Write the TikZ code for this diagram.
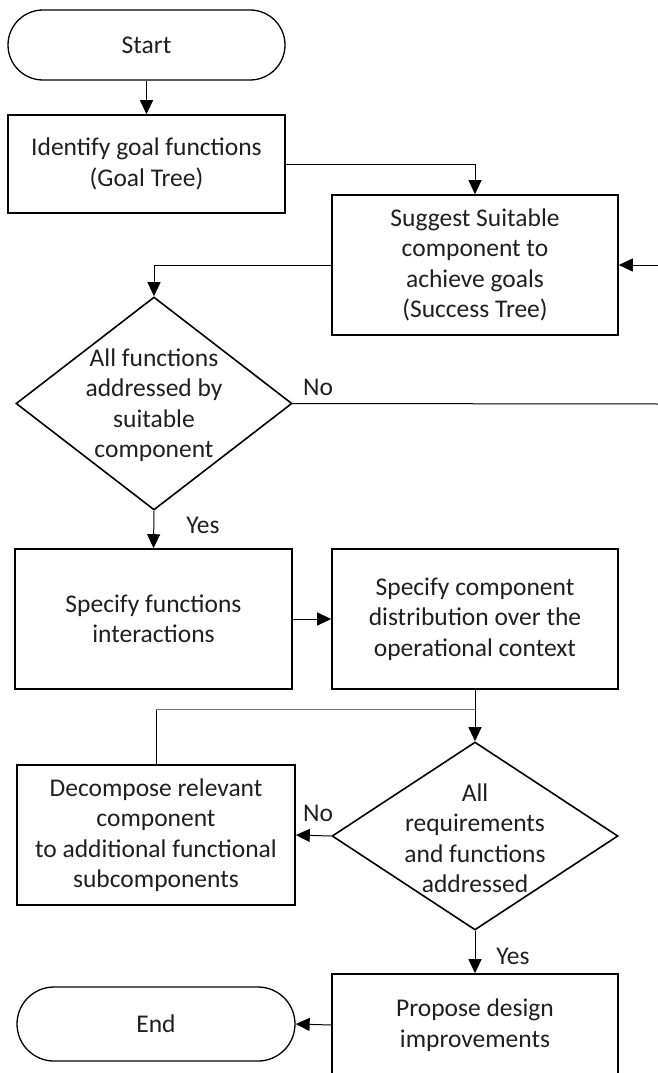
\documentclass[tikz,border=0pt]{standalone}
\usepackage{fontspec}
\setmainfont{Carlito}
\usetikzlibrary{shapes.geometric,arrows.meta}
\begin{document}
\begin{tikzpicture}[x=1pt,y=-1pt,
  txt/.style={font=\fontsize{25.5}{30.5}\selectfont, text=black!88, align=center, inner sep=0pt},
  box/.style={txt, draw=black, line width=1.6pt, rectangle},
  term/.style={txt, draw=black, line width=1.3pt, rectangle, rounded corners=35pt},
  dec/.style={draw, line width=1.6pt, diamond, inner sep=0pt},
  conn/.style={line width=1pt, -{Triangle[length=14pt,width=13pt]}},
  plain/.style={line width=1pt},
  lbl/.style={font=\fontsize{25.5}{30.5}\selectfont, text=black!88, inner sep=0pt}
]
\useasboundingbox (0,0) rectangle (658,1073);

\node[term, minimum width=277pt, minimum height=70pt] (start) at (146.5,45) {Start};
\node[box, minimum width=277pt, minimum height=98pt] (ident) at (146.5,164) {Identify goal functions\\(Goal Tree)};
\node[box, minimum width=286pt, minimum height=140pt] (sugg) at (475,265) {Suggest Suitable\\component to\\achieve goals\\(Success Tree)};
\node[dec, minimum width=276pt, minimum height=213pt] (d1) at (154,403.5) {};
\node[txt] (d1t) at (154,405) {All functions\\addressed by\\suitable\\component};
\node[box, minimum width=277pt, minimum height=140pt] (sfun) at (153.5,619) {Specify functions\\interactions};
\node[box, minimum width=286pt, minimum height=140pt] (scomp) at (475,619) {Specify component\\distribution over the\\operational context};
\node[dec, minimum width=286pt, minimum height=188pt] (d2) at (475,836) {};
\node[txt] (d2t) at (475,838) {All\\requirements\\and functions\\addressed};
\node[box, minimum width=278pt, minimum height=140pt] (decomp) at (156,835) {Decompose relevant\\component\\to additional functional\\subcomponents};
\node[box, minimum width=286pt, minimum height=102pt] (prop) at (475,1025) {Propose design\\improvements};
\node[term, minimum width=278pt, minimum height=74pt, rounded corners=37pt] (end) at (156,1024) {End};

\coordinate (loopin) at (660,265);
\coordinate (noout) at (660,404);
\coordinate (join) at (475,709);
\coordinate (corner) at (156,709);

\draw[conn] (start) -- (ident);
\draw[conn] (ident.east) -| (sugg.north);
\draw[conn] (sugg.west) -| (d1.north);
\draw[conn] (loopin) -- (sugg.east);
\draw[plain] (d1.east) -- (noout);
\draw[conn] (d1.south) -- (sfun.north);
\draw[conn] (sfun.east) -- (scomp.west);
\draw[conn] (scomp.south) -- (d2.north);
\draw[plain] (decomp.north) -- (corner);
\draw[plain, draw=black!55] (corner) -- (join);
\draw[conn] (d2.west) -- (decomp.east);
\draw[conn] (d2.south) -- (prop.north);
\draw[conn] (prop.west) -- (end.east);

\node[lbl] (no1) at (318,387) {No};
\node[lbl] (yes1) at (203,525) {Yes};
\node[lbl] (no2) at (318,813) {No};
\node[lbl] (yes2) at (513,956) {Yes};
\end{tikzpicture}
\end{document}
